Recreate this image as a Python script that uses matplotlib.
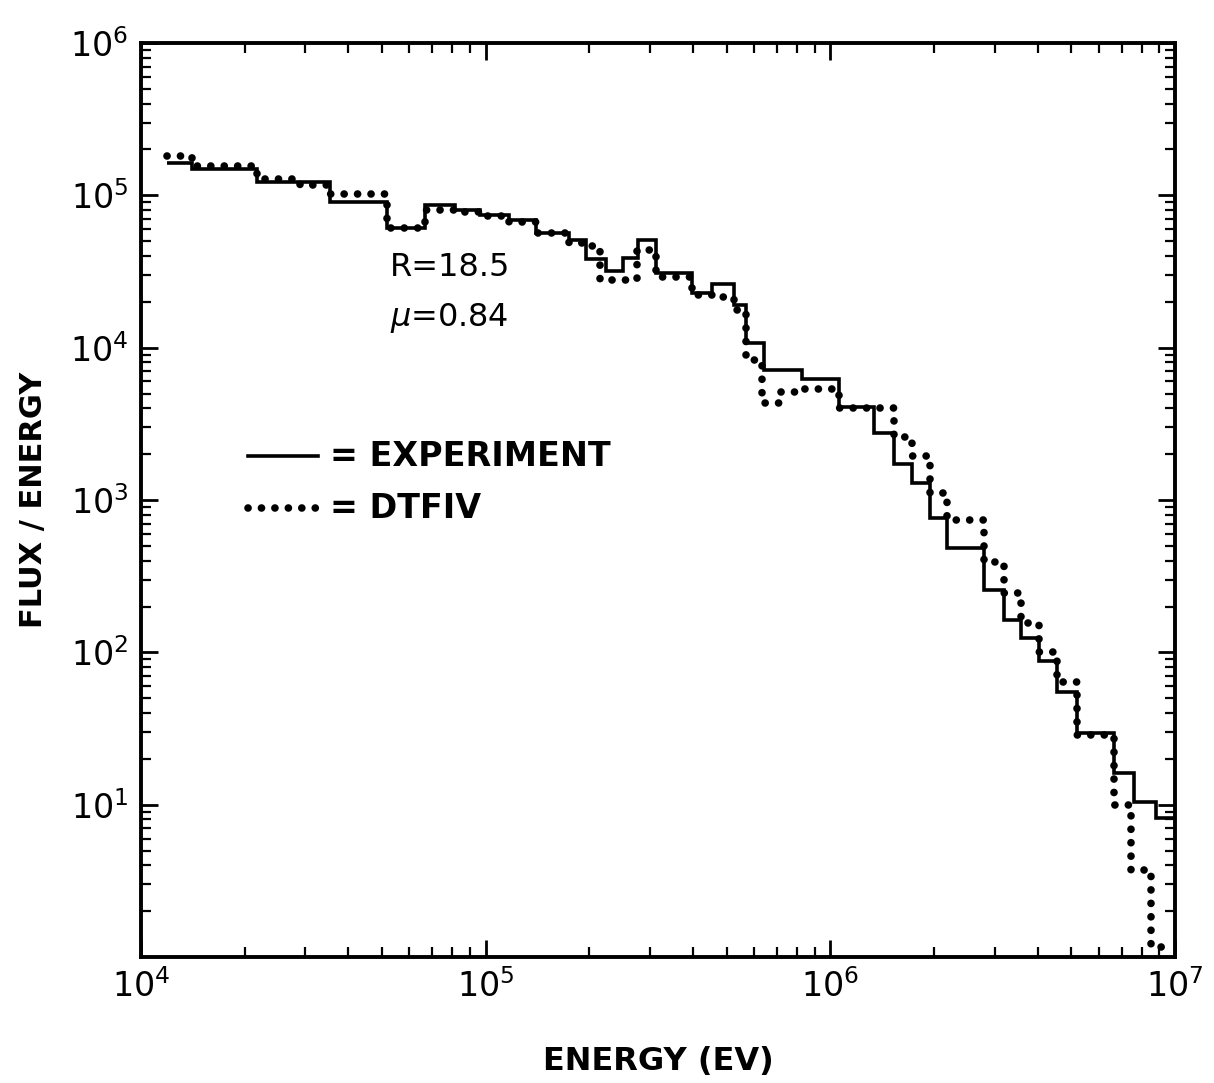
import numpy as np
import matplotlib.pyplot as plt
from matplotlib.ticker import LogLocator, NullFormatter

# Experiment histogram (bin edges in eV, flux/energy per bin)
exp_edges = [1.19e4, 1.41e4, 2.17e4, 3.53e4, 5.16e4, 6.66e4, 8.13e4, 9.6e4,
             1.17e5, 1.40e5, 1.75e5, 1.96e5, 2.24e5, 2.50e5, 2.76e5, 3.13e5,
             3.98e5, 4.55e5, 5.27e5, 5.71e5, 6.44e5, 8.30e5, 1.06e6, 1.34e6,
             1.53e6, 1.73e6, 1.94e6, 2.18e6, 2.80e6, 3.19e6, 3.58e6, 4.03e6,
             4.55e6, 5.20e6, 6.66e6, 7.60e6, 8.81e6, 9.93e6]
exp_flux = [1.63e5, 1.49e5, 1.22e5, 9.0e4, 6.1e4, 8.6e4, 8.0e4, 7.4e4,
            6.9e4, 5.7e4, 5.1e4, 3.8e4, 3.2e4, 3.9e4, 5.1e4, 3.1e4,
            2.3e4, 2.6e4, 1.9e4, 1.07e4, 7.1e3, 6.2e3, 4.1e3, 2.75e3,
            1.72e3, 1.29e3, 760, 483, 256, 163, 124, 88,
            55, 29.5, 16.1, 10.4, 8.2]

# DTFIV calculation
dtf_edges = [1.19e4, 1.41e4, 2.17e4, 2.89e4, 3.53e4, 5.16e4, 6.66e4, 8.13e4,
             9.6e4, 1.17e5, 1.40e5, 1.75e5, 1.96e5, 2.14e5, 2.74e5, 3.13e5,
             3.98e5, 4.55e5, 5.27e5, 5.71e5, 6.35e5, 7.11e5, 8.30e5, 1.06e6,
             1.53e6, 1.73e6, 1.94e6, 2.18e6, 2.80e6, 3.19e6, 3.58e6, 4.03e6,
             4.55e6, 5.20e6, 6.66e6, 7.46e6, 8.51e6, 9.93e6]
dtf_flux = [1.81e5, 1.56e5, 1.28e5, 1.17e5, 1.02e5, 6.1e4, 8.0e4, 7.8e4,
            7.3e4, 6.7e4, 5.7e4, 4.9e4, 4.65e4, 2.78e4, 4.37e4, 2.91e4,
            2.21e4, 2.15e4, 1.77e4, 8.3e3, 4.33e3, 5.11e3, 5.35e3, 4.01e3,
            2.59e3, 1.94e3, 1.11e3, 738, 391, 245, 155, 100,
            63.7, 28.6, 9.9, 3.72, 1.16]

fig = plt.figure(figsize=(12.14, 10.83), dpi=100)
ax = fig.add_axes([0.1161, 0.1163, 0.8518, 0.8440])

ax.stairs(exp_flux, exp_edges, baseline=None, color='black', linewidth=2.6)
dots = ax.stairs(dtf_flux, dtf_edges, baseline=None, color='black',
                 linewidth=5.5, linestyle=(0, (0.01, 1.75)))
dots.set_capstyle('round')

ax.set_xscale('log')
ax.set_yscale('log')
ax.set_xlim(1e4, 1e7)
ax.set_ylim(1, 1e6)
ax.set_yticks([1e1, 1e2, 1e3, 1e4, 1e5, 1e6])
ax.set_xticks([1e4, 1e5, 1e6, 1e7])
ax.xaxis.set_minor_locator(LogLocator(base=10, subs=np.arange(2, 10)))
ax.yaxis.set_minor_locator(LogLocator(base=10, subs=np.arange(2, 10)))
ax.xaxis.set_minor_formatter(NullFormatter())
ax.yaxis.set_minor_formatter(NullFormatter())

ax.tick_params(which='both', direction='in', top=True, right=True)
ax.tick_params(which='major', length=12, width=2, labelsize=24, pad=9)
ax.tick_params(which='minor', length=7, width=1.6)
for s in ax.spines.values():
    s.set_linewidth(2.8)

ax.set_xlabel('ENERGY (EV)', fontsize=23, fontweight='bold')
ax.xaxis.set_label_coords(0.5, -0.097)
ax.set_ylabel('FLUX / ENERGY', fontsize=22, fontweight='bold')
ax.yaxis.set_label_coords(-0.09, 0.5)

# annotations
ax.text(0.2408, 0.754, 'R=18.5', transform=ax.transAxes, fontsize=23, va='center')
ax.text(0.2408, 0.699, r'$\mu$=0.84', transform=ax.transAxes, fontsize=23, va='center')

# hand-drawn key
ax.plot([0.1035, 0.1712], [0.548, 0.548], transform=ax.transAxes,
        color='black', linewidth=2.6)
ax.text(0.1828, 0.548, '= EXPERIMENT', transform=ax.transAxes,
        fontsize=24, fontweight='bold', va='center')
key_dots, = ax.plot([0.1035, 0.1712], [0.491, 0.491], transform=ax.transAxes,
                    color='black', linewidth=5.5, linestyle=(0, (0.01, 1.75)))
key_dots.set_dash_capstyle('round')
ax.text(0.1828, 0.491, '= DTFIV', transform=ax.transAxes,
        fontsize=24, fontweight='bold', va='center')

plt.savefig('out.png', dpi=100)
